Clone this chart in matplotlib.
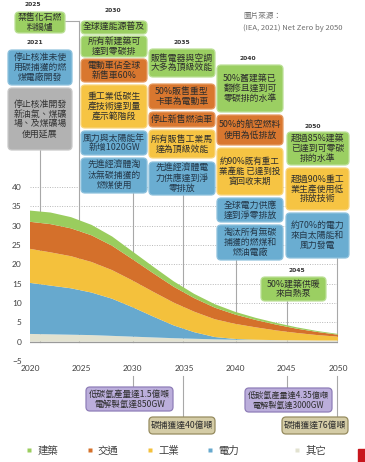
import numpy as np
import matplotlib
matplotlib.use('Agg')
import matplotlib.pyplot as plt
import matplotlib.transforms as mtrans
from matplotlib.patches import FancyBboxPatch, Rectangle
from matplotlib.lines import Line2D

plt.rcParams['font.family'] = ['Noto Sans CJK TC', 'DejaVu Sans']

# 排放量 (Gt CO2), 由下往上堆疊
years = [2020, 2022, 2024, 2026, 2028, 2030, 2032, 2034, 2036, 2038, 2040, 2042, 2044, 2046, 2048, 2050]
other = [2.0, 1.9, 1.8, 1.7, 1.5, 1.3, 1.1, 0.9, 0.75, 0.6, 0.5, 0.45, 0.4, 0.35, 0.3, 0.3]
power = [13.2, 12.6, 12.0, 11.0, 9.6, 7.6, 5.4, 3.3, 1.7, 0.6, 0.2, 0.05, 0.0, 0.0, 0.0, 0.0]
industry = [8.8, 8.6, 8.3, 7.9, 7.4, 6.9, 6.4, 5.9, 5.3, 4.6, 3.9, 3.2, 2.5, 1.9, 1.4, 1.0]
transport = [7.0, 7.3, 7.2, 6.9, 6.3, 5.5, 4.8, 4.1, 3.5, 3.0, 2.4, 1.9, 1.5, 1.1, 0.8, 0.5]
buildings = [2.9, 3.0, 2.9, 2.7, 2.4, 2.0, 1.7, 1.4, 1.1, 0.9, 0.7, 0.55, 0.45, 0.35, 0.25, 0.2]

sector_names = ['建築', '交通', '工業', '電力', '其它']
sector_cols = ['#9ACD5E', '#D4702B', '#F4C13C', '#67A9CE', '#E2E2D0']

yticks = list(range(-5, 41, 5))
xticks = [2020, 2025, 2030, 2035, 2040, 2045, 2050]

W, H = 365, 462
fig = plt.figure(figsize=(W / 100, H / 100), dpi=100)
ax = fig.add_axes([30 / W, 1 - 361 / H, 308 / W, 174 / H])
ax.patch.set_alpha(0)
px = mtrans.Affine2D().scale(1 / 100) + fig.dpi_scale_trans   # 像素座標 (左下為原點)

ax.stackplot(years, other, power, industry, transport, buildings,
             colors=sector_cols[::-1], lw=0, zorder=2)
ax.axhline(0, color='#9A9A9A', lw=0.9, zorder=3)

ax.set_xlim(2020, 2050)
ax.set_ylim(-5, 40)
ax.set_xticks(xticks)
ax.set_yticks(yticks)
ax.yaxis.grid(True, ls=(0, (1, 1.5)), color='#B8B8B8', lw=0.7)
ax.set_axisbelow(True)
for s in ax.spines.values():
    s.set_visible(False)
ax.tick_params(axis='y', length=0, labelsize=6, colors='#404040', pad=6)
ax.tick_params(axis='x', length=0, labelsize=6, colors='#404040', pad=3)
for lbl in ax.get_xticklabels() + ax.get_yticklabels():
    lbl.set_fontfamily('Lato')

# 連接線 (x, 上端, 下端), 上方的線被面積圖蓋住
connectors = [(40, 150, 342), (79, 21, 342), (133, 193, 342), (183, 195, 342),
              (236, 260, 342), (287, 301, 342), (337, 258, 342),
              (133, 376, 387), (183, 376, 417), (287, 376, 388), (337, 376, 417)]
for x, y0, y1 in connectors:
    ax.add_line(Line2D([x, x], [H - y0, H - y1], transform=px, color='#A8A8A8',
                       lw=0.8, zorder=1, clip_on=False))
ax.add_line(Line2D([65, 79], [H - 21, H - 21], transform=px, color='#A8A8A8',
                   lw=0.8, zorder=1, clip_on=False))

styles = {
    'g': ('#9BCF62', '#BCE097', '#2d2d2d'),
    'o': ('#D9772F', '#E59B62', '#2d2d2d'),
    'y': ('#F6C443', '#F9D57E', '#2d2d2d'),
    'b': ('#6AADD1', '#8FC2DD', '#24384a'),
    'gray': ('#B2B2B2', '#C9C9C9', '#333333'),
    'p': ('#BBAEDB', '#8F7EB8', '#2d2d2d'),
    'k': ('#D4CCA6', '#968C60', '#2d2d2d'),
}

boxes = [
    (15, 12, 65, 33, '禁售化石燃\n料鍋爐', 'g'),
    (8, 50, 72, 85, '停止核准未使\n用碳捕獲的燃\n煤電廠開發', 'b'),
    (8, 88, 72, 150, '停止核准開發\n新油氣、煤礦\n場、及煤礦場\n使用延展', 'gray'),
    (81, 21, 147, 34, '全球達能源普及', 'g'),
    (81, 36, 147, 57, '所有新建築可\n達到零碳排', 'g'),
    (81, 59, 147, 82, '電動車佔全球\n新售車60%', 'o'),
    (81, 85, 147, 128, '重工業低碳生\n產技術達到量\n產示範階段', 'y'),
    (81, 131, 147, 155, '風力與太陽能年\n新增1020GW', 'b'),
    (81, 158, 147, 193, '先進經濟體淘\n汰無碳捕獲的\n燃煤使用', 'b'),
    (149, 49, 215, 77, '販售電器與空調\n大多為頂級效能', 'g'),
    (149, 84, 215, 109, '50%販售重型\n卡車為電動車', 'o'),
    (149, 112, 215, 127, '停止新售燃油車', 'o'),
    (149, 130, 215, 158, '所有販售工業馬\n達為頂級效能', 'y'),
    (149, 162, 215, 195, '先進經濟體電\n力供應達到淨\n零排放', 'b'),
    (217, 65, 283, 112, '50%舊建築已\n翻修且達到可\n零碳排的水準', 'g'),
    (217, 115, 283, 145, '50%的航空燃料\n使用為低排放', 'o'),
    (217, 148, 283, 195, '約90%既有重工\n業產能 已達到投\n資回收末期', 'y'),
    (217, 198, 283, 222, '全球電力供應\n達到淨零排放', 'b'),
    (217, 225, 283, 260, '淘汰所有無碳\n捕獲的燃煤和\n燃油電廠', 'b'),
    (287, 132, 349, 165, '超過85%建築\n已達到可零碳\n排的水準', 'g'),
    (286, 168, 349, 210, '超過90%重工\n業生產使用低\n排放技術', 'y'),
    (286, 213, 349, 258, '約70%的電力\n來自太陽能和\n風力發電', 'b'),
    (261, 277, 326, 301, '50%建築供暖\n來自熱泵', 'g'),
    (86, 387, 173, 411, '低碳氫產量達1.5億噸\n電解製氫達850GW', 'p'),
    (149, 417, 215, 434, '碳捕獲達40億噸', 'k'),
    (245, 388, 332, 412, '低碳氫產量達4.35億噸\n電解製氫達3000GW', 'p'),
    (282, 417, 348, 434, '碳捕獲達76億噸', 'k'),
]


def text_width(line):
    w = 0
    for c in line:
        if c == ' ':
            w += 0.3
        elif ord(c) < 128:
            w += 0.55
        else:
            w += 1.0
    return w


for x0, y0, x1, y1, txt, st in boxes:
    fc, ec, tc = styles[st]
    ax.add_patch(FancyBboxPatch((x0, H - y1), x1 - x0, y1 - y0,
                                boxstyle='round,pad=0,rounding_size=4', transform=px,
                                fc=fc, ec=ec, lw=0.9, zorder=5, clip_on=False))
    n = max(text_width(l) for l in txt.split('\n'))
    fs = min(8.9, (x1 - x0 - 4) / n) * 0.72
    ax.text((x0 + x1) / 2, H - (y0 + y1) / 2, txt, transform=px, ha='center',
            va='center', fontsize=fs, color=tc, linespacing=1.12, zorder=6, clip_on=False)

year_tags = [(33, 5, '2025'), (35, 42, '2021'), (113, 11, '2030'), (182, 43, '2035'),
             (248, 58, '2040'), (313, 126, '2050'), (297, 270, '2045')]
for x, y, t in year_tags:
    ax.text(x, H - y, t, transform=px, ha='center', va='center', fontsize=4.3,
            fontweight='bold', color='#333333', family='DejaVu Sans', clip_on=False)

ax.text(243, H - 16, '圖片來源：', transform=px, ha='left', va='center',
        fontsize=5.5, color='#707070')
ax.text(243, H - 28, '(IEA, 2021) Net Zero by 2050', transform=px, ha='left',
        va='center', fontsize=5.5, color='#707070')

handles = [Line2D([], [], ls='none', marker='s', ms=3.5, mec='none', mfc=c)
           for c in sector_cols]
leg1 = fig.legend(handles[:4], sector_names[:4], loc='center left',
                  bbox_to_anchor=(25 / W, 1 - 451 / H), ncol=4, frameon=False,
                  fontsize=7.5, handlelength=0.8, handletextpad=0.4,
                  columnspacing=2.6, borderpad=0, borderaxespad=0, labelcolor='#404040')
leg2 = fig.legend(handles[4:], sector_names[4:], loc='center left',
                  bbox_to_anchor=(293 / W, 1 - 451 / H), frameon=False,
                  fontsize=7.5, handlelength=0.8, handletextpad=0.4,
                  borderpad=0, borderaxespad=0, labelcolor='#404040')

fig.add_artist(Rectangle((358 / W, 0), 7 / W, 13 / H, transform=fig.transFigure,
                         color='#C8161D'))

fig.savefig('out.png', dpi=100)
